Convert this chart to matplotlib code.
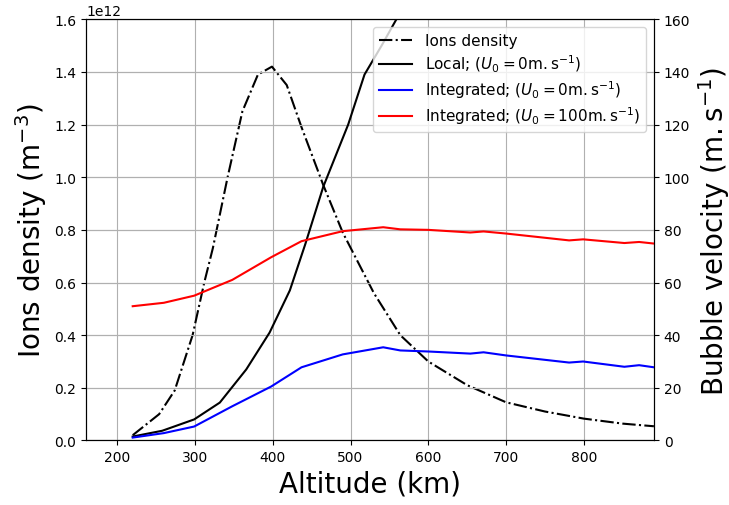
import matplotlib
matplotlib.use('Agg')
import matplotlib.pyplot as plt

# ions density (1e12 m^-3)
alt_ne = [220, 254, 274, 297, 312, 323, 342, 361, 381, 399, 418, 437, 465, 490, 530, 564, 600, 650, 700, 750, 800, 850, 890]
ne = [0.02, 0.10, 0.19, 0.40, 0.60, 0.73, 1.00, 1.25, 1.39, 1.42, 1.35, 1.19, 0.97, 0.79, 0.56, 0.40, 0.30, 0.21, 0.145, 0.11, 0.083, 0.064, 0.054]

# local velocity, U0 = 0
alt_loc = [220, 258, 299, 332, 366, 396, 422, 442, 465, 497, 518, 540, 559, 580]
v_loc = [1.5, 3.7, 8.0, 14.4, 27.0, 41.0, 57.0, 74.7, 96.4, 120.0, 139.0, 150.0, 160.0, 170.0]

# integrated velocity, U0 = 0 and U0 = 100
alt_int = [220, 260, 299, 348, 398, 437, 490, 542, 564, 600, 654, 671, 700, 781, 799, 852, 871, 890]
v_int0 = [1.1, 2.8, 5.3, 13.0, 20.5, 27.8, 32.7, 35.4, 34.2, 33.8, 33.0, 33.5, 32.3, 29.6, 30.0, 28.0, 28.6, 27.8]
v_int100 = [51.0, 52.3, 55.0, 61.0, 69.6, 75.7, 79.5, 81.0, 80.2, 80.0, 79.0, 79.4, 78.6, 76.0, 76.4, 75.0, 75.4, 74.8]

fig = plt.figure(figsize=(7.29, 5.06), dpi=100)
ax = fig.add_axes([0.118, 0.1275, 0.779, 0.8325])
ax2 = ax.twinx()

l1, = ax.plot(alt_ne, [x * 1e12 for x in ne], 'k-.', lw=1.5, label='Ions density')
l2, = ax2.plot(alt_loc, v_loc, 'k-', lw=1.5, label=r'Local; ($U_0=0\mathrm{m.s}^{-1}$)')
l3, = ax2.plot(alt_int, v_int0, 'b-', lw=1.5, label=r'Integrated; ($U_0=0\mathrm{m.s}^{-1}$)')
l4, = ax2.plot(alt_int, v_int100, 'r-', lw=1.5, label=r'Integrated; ($U_0=100\mathrm{m.s}^{-1}$)')

ax.set_xlim(160, 890)
ax.set_ylim(0, 1.6e12)
ax2.set_ylim(0, 160)
ax.grid(True)
ax2.grid(True)

ax.set_xlabel('Altitude (km)', fontsize=20)
ax.set_ylabel(r'Ions density (m$^{-3}$)', fontsize=20)
ax2.set_ylabel(r'Bubble velocity ($\mathrm{m.s}^{-1}$)', fontsize=20)

ax2.legend(handles=[l1, l2, l3, l4], loc='upper right', fontsize=11,
           labelspacing=0.3, handlelength=2.2)

plt.savefig('out.png')
